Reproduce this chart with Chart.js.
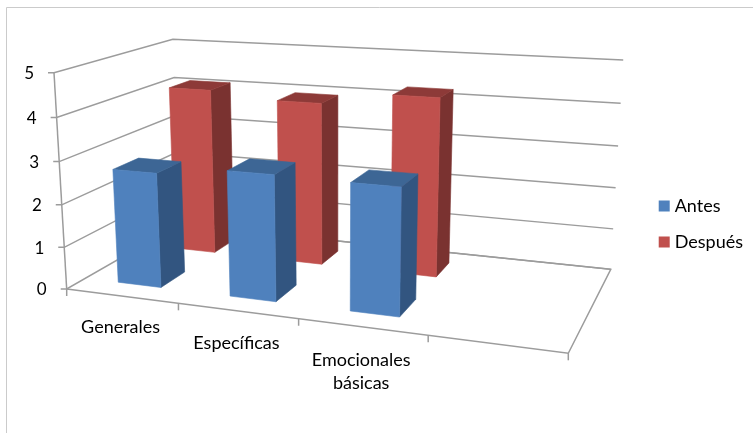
<!DOCTYPE html>
<html lang="es">
<head>
<meta charset="utf-8">
<title>Antes y después</title>
<style>
  html, body { margin: 0; padding: 0; background: #fff; }
  canvas { display: block; }
</style>
<script src="https://cdn.jsdelivr.net/npm/chart.js@4"></script>
</head>
<body>
<canvas id="chart" width="753" height="433"></canvas>
<script>
// The fourth category is an empty slot, which leaves room at the right of the floor.
const categories = [['Generales'], ['Específicas'], ['Emocionales', 'básicas'], ['']];
const antes = [2.7, 2.9, 2.87, null];
const despues = [4.1, 3.95, 4.25, null];
const valueTicks = [0, 1, 2, 3, 4, 5];

const FONT = 'Lato, "Open Sans", sans-serif';
const FONT_SIZE = 18;

// Perspective box: each corner of the unit cube (u along categories, v up, d into the page).
const ORIGIN = [66.7, 289];
const U_END = [568.3, 353.3];
const V_END = [54, 72.7];
const D_END = [179.1, 224.6];
const U_W = 0.86, V_W = 0.955, D_W = 1.1758;

function project(u, v, d) {
  const w = 1 + u * (U_W - 1) + v * (V_W - 1) + d * (D_W - 1);
  const axis = i => ORIGIN[i]
    + u * (U_W * U_END[i] - ORIGIN[i])
    + v * (V_W * V_END[i] - ORIGIN[i])
    + d * (D_W * D_END[i] - ORIGIN[i]);
  return [axis(0) / w, axis(1) / w];
}

function polygon(ctx, points, fill) {
  ctx.beginPath();
  points.forEach((p, i) => i ? ctx.lineTo(p[0], p[1]) : ctx.moveTo(p[0], p[1]));
  ctx.closePath();
  ctx.fillStyle = fill;
  ctx.strokeStyle = fill;
  ctx.lineWidth = 0.6;
  ctx.fill();
  ctx.stroke();
}

function polyline(ctx, points) {
  ctx.beginPath();
  points.forEach((p, i) => i ? ctx.lineTo(p[0], p[1]) : ctx.moveTo(p[0], p[1]));
  ctx.stroke();
}

const box3d = {
  id: 'box3d',

  // Outer frame, walls, floor and the tick labels, all taken from the chart's scales.
  beforeDatasetsDraw(chart) {
    const { ctx, scales: { x, y }, chartArea: area } = chart;
    ctx.save();

    ctx.strokeStyle = '#cbcbcb';
    ctx.lineWidth = 1;
    polyline(ctx, [[6.5, 433], [6.5, 7.5], [753, 7.5]]);

    ctx.strokeStyle = '#9c9c9c';
    ctx.lineWidth = 1.5;
    ctx.fillStyle = '#000';
    ctx.font = `17px ${FONT}`;
    ctx.textAlign = 'right';
    ctx.textBaseline = 'middle';
    y.ticks.forEach(t => {
      const v = (area.bottom - y.getPixelForValue(t.value)) / area.height;
      const front = project(0, v, 0);
      polyline(ctx, [[front[0] - 6, front[1]], front, project(0, v, 1), project(1, v, 1)]);
      ctx.fillText(String(t.value), front[0] - 20, front[1] + 1);
    });

    polyline(ctx, [project(0, 1, 0), project(0, 0, 0)]);
    polyline(ctx, [project(0, 0, 0), project(1, 0, 0), project(1, 0, 1), project(0, 0, 1)]);

    ctx.font = `${FONT_SIZE}px ${FONT}`;
    ctx.textAlign = 'center';
    const count = categories.length;
    for (let i = 0; i <= count; i++) {
      const edge = project(i / count, 0, 0);
      polyline(ctx, [edge, [edge[0], edge[1] + 7]]);
    }
    categories.forEach((lines, i) => {
      const at = project((x.getPixelForValue(i) - area.left) / area.width, 0, 0);
      lines.forEach((line, n) => ctx.fillText(line, at[0] - 1, at[1] + 31 + i + n * 23));
    });
    ctx.restore();
  },

  // Each bar keeps the position the library computed; it is only lifted into its depth slot.
  beforeDatasetDraw(chart, args) {
    const { ctx, chartArea: area } = chart;
    const ds = chart.data.datasets[args.index];
    const [d0, d1] = ds.depthSlot;
    ctx.save();
    args.meta.data.forEach((bar, i) => {
      if (ds.data[i] === null) return;
      const u0 = (bar.x - bar.width / 2 - area.left) / area.width;
      const u1 = (bar.x + bar.width / 2 - area.left) / area.width;
      const v = (bar.base - bar.y) / area.height;
      polygon(ctx, [project(u1, 0, d0), project(u1, 0, d1), project(u1, v, d1), project(u1, v, d0)], ds.sideColor);
      polygon(ctx, [project(u0, v, d0), project(u1, v, d0), project(u1, v, d1), project(u0, v, d1)], ds.topColor);
      polygon(ctx, [project(u0, 0, d0), project(u1, 0, d0), project(u1, v, d0), project(u0, v, d0)], ds.backgroundColor);
    });
    ctx.restore();
    return false;
  }
};

new Chart(document.getElementById('chart'), {
  type: 'bar',
  data: {
    labels: categories,
    datasets: [
      { label: 'Antes', data: antes, backgroundColor: '#4f81bd', sideColor: '#325580', topColor: '#3d6695', depthSlot: [0.147, 0.36] },
      { label: 'Después', data: despues, backgroundColor: '#c0504d', sideColor: '#7a3230', topColor: '#8d3a38', depthSlot: [0.655, 0.855] }
    ]
  },
  options: {
    responsive: false,
    animation: false,
    layout: { padding: { top: 15, right: 0 } },
    datasets: { bar: { grouped: false, barPercentage: 0.39, categoryPercentage: 1 } },
    scales: {
      x: { display: false },
      y: { display: false, min: valueTicks[0], max: valueTicks[valueTicks.length - 1], ticks: { stepSize: 1 } }
    },
    plugins: {
      tooltip: { enabled: false },
      legend: {
        position: 'right',
        labels: { usePointStyle: true, pointStyle: 'rect', boxWidth: 3, boxHeight: 11, padding: 18, color: '#000', font: { family: FONT, size: FONT_SIZE } }
      }
    }
  },
  plugins: [box3d]
});
</script>
</body>
</html>
